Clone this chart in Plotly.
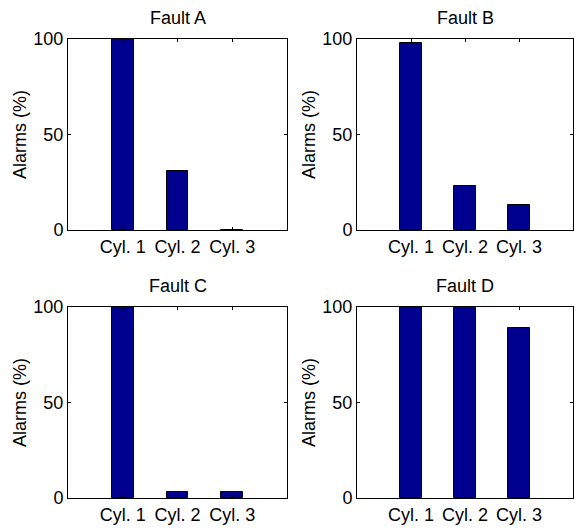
import plotly.graph_objects as go

categories = ["Cyl. 1", "Cyl. 2", "Cyl. 3"]
titles = ["Fault A", "Fault B", "Fault C", "Fault D"]
fault_a = [100, 31, 0]
fault_b = [97.7, 23, 13]
fault_c = [100, 3, 3]
fault_d = [100, 100, 89]
y_ticks = [0, 50, 100]

series = [fault_a, fault_b, fault_c, fault_d]

W, H = 576, 531
xdoms = [(68 / W, 287 / W), (357 / W, 573 / W)]
ydoms = [(1 - 230 / H, 1 - 39 / H), (1 - 498 / H, 1 - 307 / H)]

fig = go.Figure()
font = dict(family="Liberation Sans, Arial, sans-serif", size=18, color="black")

for i, (vals, title) in enumerate(zip(series, titles)):
    r, c = divmod(i, 2)
    xa = "x" if i == 0 else f"x{i+1}"
    ya = "y" if i == 0 else f"y{i+1}"
    fig.add_trace(go.Bar(
        x=categories, y=vals, width=0.4,
        marker=dict(color="#00008F", line=dict(color="black", width=1)),
        xaxis=xa, yaxis=ya, showlegend=False,
    ))
    xkey = "xaxis" if i == 0 else f"xaxis{i+1}"
    ykey = "yaxis" if i == 0 else f"yaxis{i+1}"
    fig.layout[xkey] = dict(
        domain=xdoms[c], anchor=ya, type="category", range=[-1, 3],
        showline=True, linecolor="black", linewidth=1, mirror="ticks",
        ticks="inside", ticklen=3, tickcolor="black", automargin=False,
        showgrid=False, zeroline=False, tickfont=font, fixedrange=True,
    )
    fig.layout[ykey] = dict(
        domain=ydoms[r], anchor=xa, range=[0, 100],
        tickvals=y_ticks, ticktext=[str(t) for t in y_ticks],
        showline=True, linecolor="black", linewidth=1, mirror="ticks",
        ticks="inside", ticklen=3, tickcolor="black", automargin=False,
        showgrid=False, zeroline=False, tickfont=font,
        title=dict(text="Alarms (%)", font=font, standoff=2), fixedrange=True,
    )
    fig.add_annotation(
        text=title, xref="paper", yref="paper",
        x=(xdoms[c][0] + xdoms[c][1]) / 2, y=ydoms[r][1],
        yshift=21, xanchor="center", yanchor="middle",
        showarrow=False, font=font,
    )

fig.update_layout(
    width=W, height=H, margin=dict(l=0, r=0, t=0, b=0),
    plot_bgcolor="white", paper_bgcolor="white",
    bargap=0,
)
fig.write_html("out.html")
